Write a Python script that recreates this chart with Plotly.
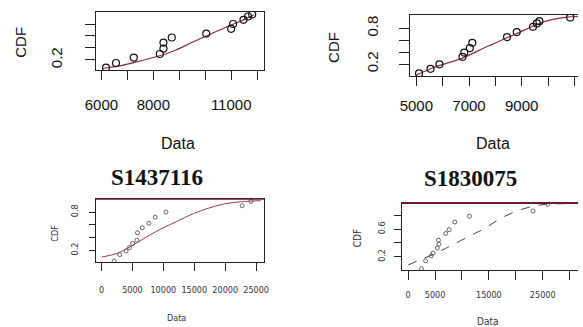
import plotly.graph_objects as go

W, H = 583, 327

# ---------------- data ----------------
p1_x = [6175, 6560, 7245, 8250, 8390, 8390, 8710, 10040, 11000, 11075, 11475, 11650, 11810]
p1_y = [0.072, 0.15, 0.24, 0.30, 0.39, 0.49, 0.575, 0.64, 0.72, 0.80, 0.87, 0.925, 0.96]
c1_x = [6064, 6750, 7625, 8250, 8875, 9500, 10125, 10750, 11375, 11875]
c1_y = [0.062, 0.105, 0.20, 0.27, 0.367, 0.495, 0.617, 0.738, 0.85, 0.95]

p2_x = [5103, 5539, 5878, 6753, 6820, 7030, 7125, 8443, 8812, 9428, 9576, 9672, 10842]
p2_y = [0.044, 0.121, 0.197, 0.323, 0.393, 0.469, 0.558, 0.654, 0.738, 0.827, 0.884, 0.922, 0.985]
c2_x = [5000, 5738, 6720, 7583, 8443, 9181, 9919, 10657, 11137]
c2_y = [0.015, 0.155, 0.296, 0.474, 0.642, 0.788, 0.922, 0.985, 1.0]

p3_x = [2044, 2940, 3980, 4510, 5030, 5710, 5820, 6600, 7660, 8690, 10420, 22750, 24160]
p3_y = [0.03, 0.132, 0.189, 0.243, 0.307, 0.359, 0.475, 0.555, 0.625, 0.72, 0.80, 0.90, 0.968]
c3_x = [50, 2670, 4760, 6870, 9480, 12100, 14730, 17340, 19960, 22590, 25730]
c3_y = [0.094, 0.157, 0.264, 0.386, 0.529, 0.65, 0.772, 0.863, 0.931, 0.963, 0.98]

p4_x = [2475, 3250, 4280, 4640, 5420, 5725, 5635, 6990, 7620, 8670, 11380, 23190, 25900]
p4_y = [0.027, 0.141, 0.213, 0.253, 0.326, 0.383, 0.441, 0.538, 0.593, 0.705, 0.788, 0.863, 0.96]
c4_x = [0, 2110, 5130, 6935, 8130, 11140, 14160, 17160, 20170, 23190, 25590, 29200, 31500]
c4_y = [0.08, 0.152, 0.249, 0.321, 0.369, 0.489, 0.61, 0.755, 0.864, 0.932, 0.961, 0.971, 0.975]

titles = ["S1437116", "S1830075"]
x_label = "Data"
y_label = "CDF"

x1_ticks = [6000, 7000, 8000, 9000, 10000, 11000, 12000]
x1_text = ["6000", "", "8000", "", "", "11000", ""]
x2_ticks = [5000, 6000, 7000, 8000, 9000, 10000, 11000]
x2_text = ["5000", "", "7000", "", "9000", "", ""]
x3_ticks = [0, 5000, 10000, 15000, 20000, 25000]
x3_text = ["0", "5000", "10000", "15000", "20000", "25000"]
x4_ticks = [0, 5000, 10000, 15000, 20000, 25000, 30000]
x4_text = ["0", "5000", "", "15000", "", "25000", ""]
y_ticks = [0.2, 0.4, 0.6, 0.8]
y1_text = ["0.2", "", "", ""]
y2_text = ["0.2", "", "", "0.8"]
y3_text = ["0.2", "", "", "0.8"]
y4_text = ["0.2", "", "0.6", ""]

# ---------------- styling ----------------
MAROON = "#8c2a48"
SANS = "Liberation Sans, Arial, sans-serif"
NARROW = "Liberation Sans Narrow, DejaVu Sans Condensed, Liberation Sans, sans-serif"

def px_dom_x(a, b):
    return [a / W, b / W]

def px_dom_y(top, bottom):
    return [1 - bottom / H, 1 - top / H]

fig = go.Figure()

panels = [
    dict(px=p1_x, py=p1_y, cx=c1_x, cy=c1_y, xa="x", ya="y", msize=7, mcol="#111", ccol=MAROON, dash="solid", cw=1.2),
    dict(px=p2_x, py=p2_y, cx=c2_x, cy=c2_y, xa="x2", ya="y2", msize=7, mcol="#111", ccol=MAROON, dash="solid", cw=1.2),
    dict(px=p3_x, py=p3_y, cx=c3_x, cy=c3_y, xa="x3", ya="y3", msize=4, mcol="#555", ccol="#9a3a5c", dash="solid", cw=1.0),
    dict(px=p4_x, py=p4_y, cx=c4_x, cy=c4_y, xa="x4", ya="y4", msize=4, mcol="#555", ccol="#5a3a44", dash="dash", cw=1.0),
]
for p in panels:
    fig.add_trace(go.Scatter(x=p["cx"], y=p["cy"], mode="lines", xaxis=p["xa"], yaxis=p["ya"],
                             line=dict(color=p["ccol"], width=p["cw"], shape="spline", dash=p["dash"]),
                             showlegend=False, hoverinfo="skip"))
    fig.add_trace(go.Scatter(x=p["px"], y=p["py"], mode="markers", xaxis=p["xa"], yaxis=p["ya"],
                             marker=dict(symbol="circle-open", size=p["msize"], color=p["mcol"],
                                         line=dict(width=1.2 if p["msize"] > 5 else 0.9, color=p["mcol"])),
                             showlegend=False))

def xaxis(dom, rng, tv, tt, font, tl, so, anchor, mirror=True, lw=1):
    return dict(domain=dom, range=rng, tickvals=tv, ticktext=tt, tickfont=font, ticks="outside",
                ticklen=tl, tickwidth=1.3, tickcolor="#222", showline=True, linecolor="#222", linewidth=lw,
                mirror=mirror, showgrid=False, zeroline=False, anchor=anchor, ticklabelstandoff=so,
                fixedrange=True)

def yaxis(dom, rng, tv, tt, font, tl, so, anchor, mirror=True, lw=1):
    return dict(domain=dom, range=rng, tickvals=tv, ticktext=tt, tickfont=font, ticks="outside",
                ticklen=tl, tickwidth=1.3, tickcolor="#222", showline=True, linecolor="#222", linewidth=lw,
                mirror=mirror, showgrid=False, zeroline=False, anchor=anchor, tickangle=-90,
                ticklabelstandoff=so, fixedrange=True)

big = dict(family=SANS, size=15, color="#111")
small = dict(family=NARROW, size=9, color="#333")

fig.update_layout(
    width=W, height=H, margin=dict(l=0, r=0, t=0, b=0),
    paper_bgcolor="white", plot_bgcolor="white",
    xaxis=xaxis(px_dom_x(87, 260), [5775, 12260], x1_ticks, x1_text, big, 9, 12, "y"),
    yaxis=yaxis(px_dom_y(12, 70), [0.033, 1.0], y_ticks, y1_text, big, 10, 17, "x"),
    xaxis2=xaxis(px_dom_x(410, 583), [4750, 11137], x2_ticks, x2_text, big, 9, 7, "y2"),
    yaxis2=yaxis(px_dom_y(15, 76), [0.0, 1.025], y_ticks, y2_text, big, 10, 15, "x2", mirror=False),
    xaxis3=xaxis(px_dom_x(87, 260), [-950, 26250], x3_ticks, x3_text, small, 8, 11, "y3"),
    yaxis3=yaxis(px_dom_y(199, 262), [0.016, 1.006], y_ticks, y3_text, small, 6, 7, "x3"),
    xaxis4=xaxis(px_dom_x(402, 583), [-1140, 31550], x4_ticks, x4_text, small, 9, 7, "y4"),
    yaxis4=yaxis(px_dom_y(203, 270), [0.008, 0.98], y_ticks, y4_text, small, 7, 5, "x4", mirror=False),
)

def ann(text, xpx, ypx, font, angle=0):
    fig.add_annotation(text=text, x=xpx / W, y=1 - ypx / H, xref="paper", yref="paper",
                       showarrow=False, font=font, textangle=angle, xanchor="center", yanchor="middle")

lab_big = dict(family=SANS, size=15, color="#111")
ann(y_label, 9, 42, lab_big, -90)
ann(x_label, 172, 143, dict(family=SANS, size=16, color="#111"))
ann(y_label, 331, 47, lab_big, -90)
ann(x_label, 496, 143, dict(family=SANS, size=16, color="#111"))

title_font = dict(family="Liberation Serif, Times New Roman, serif", size=23, color="#111")
ann("<b>%s</b>" % titles[0], 150, 177, title_font)
ann("<b>%s</b>" % titles[1], 472, 178, title_font)
lab_small = dict(family=NARROW, size=9, color="#333")
ann(y_label, 45, 233, lab_small, -90)
ann(x_label, 170, 318, lab_small)
ann(y_label, 356, 238, dict(family=NARROW, size=10, color="#333"), -90)
ann(x_label, 490, 321, dict(family=NARROW, size=10, color="#333"))

# darker top frame lines of lower panels
fig.add_shape(type="line", xref="paper", yref="paper", x0=87 / W, x1=260 / W, y0=1 - 199 / H, y1=1 - 199 / H,
              line=dict(color="#6a1a34", width=1.6))
fig.add_shape(type="line", xref="paper", yref="paper", x0=402 / W, x1=1, y0=1 - 203 / H, y1=1 - 203 / H,
              line=dict(color="#6a1a34", width=2.2))

fig.write_html("out.html")
